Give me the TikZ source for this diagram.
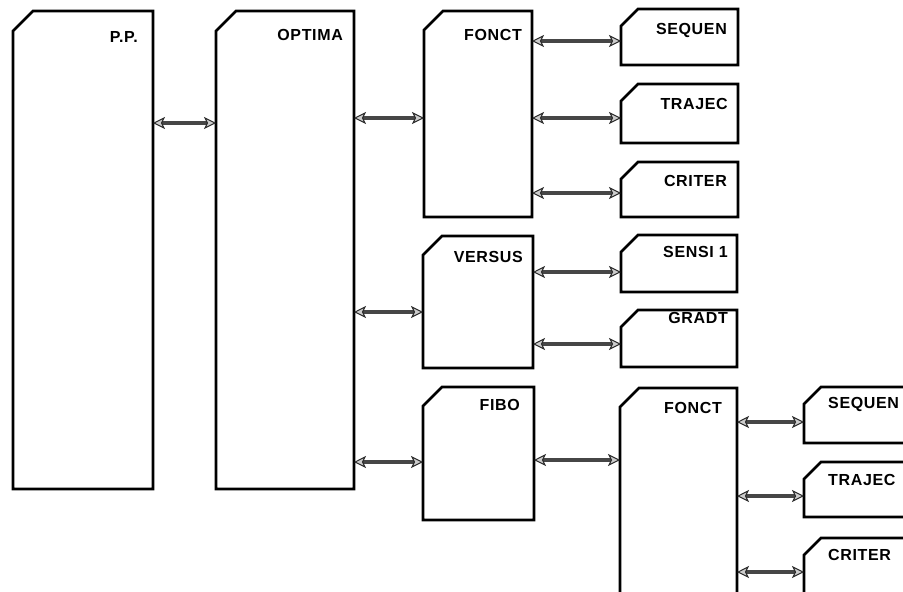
\documentclass[tikz,border=0pt]{standalone}
\usepackage{fontspec}
\setmainfont{Liberation Sans}[LetterSpace=4]
\usetikzlibrary{arrows.meta,fit}
\tikzset{
  boxarea/.style={inner sep=0pt, outer sep=0pt, draw=none},
  boxline/.style={line width=2.6pt, black, line join=miter},
  lbl/.style={font=\fontsize{16}{18}\selectfont\bfseries, inner sep=0pt, text height=11.5pt, text depth=0pt},
  hd/.tip={Stealth[length=12pt,width=12pt,inset=3pt,fill=gray!40,color=black!85,line width=1pt]},
  conn/.style={line width=3.4pt, draw=gray!55!black, hd-hd}
}
\newcommand\chbox[6]{%
  \node[boxarea, fit={(#2,#3) (#4,#5)}] (#1) {};
  \draw[boxline] ([yshift=-#6pt]#1.north west) -- ([xshift=#6pt]#1.north west) -- (#1.north east) -- (#1.south east) -- (#1.south west) -- cycle;}
\begin{document}
\begin{tikzpicture}[x=1pt,y=-1pt]
\useasboundingbox (0,0) rectangle (903,592);
\clip (0,0) rectangle (903,592);
% boxes
\chbox{pp}{13}{11}{153}{489}{20}
\chbox{opt}{216}{11}{354}{489}{20}
\chbox{fa}{424}{11}{532}{217}{19}
\chbox{seqa}{621}{9}{738}{65}{17}
\chbox{traa}{621}{84}{738}{143}{17}
\chbox{cria}{621}{162}{738}{217}{17}
\chbox{ver}{423}{236}{533}{368}{19}
\chbox{sen}{621}{235}{737}{292}{17}
\chbox{gra}{621}{310}{737}{367}{17}
\chbox{fibo}{423}{387}{534}{520}{19}
\chbox{fb}{620}{388}{737}{640}{19}
\chbox{seqb}{804}{387}{921}{443}{17}
\chbox{trab}{804}{462}{921}{517}{17}
\chbox{crib}{804}{538}{921}{600}{17}
% labels
\node[lbl, anchor=east] (ppt) at (138,37) {P.P.};
\node[lbl, anchor=east] (optt) at (343,35) {OPTIMA};
\node[lbl, anchor=east] (fat) at (522,35) {FONCT};
\node[lbl, anchor=east] (seqat) at (727,29) {SEQUEN};
\node[lbl, anchor=east] (traat) at (728,104) {TRAJEC};
\node[lbl, anchor=east] (criat) at (727,181) {CRITER};
\node[lbl, anchor=east] (vert) at (523,257) {VERSUS};
\node[lbl, anchor=east] (sent) at (728,252) {SENSI 1};
\node[lbl, anchor=east] (grat) at (728,318) {GRADT};
\node[lbl, anchor=east] (fibot) at (520,405) {FIBO};
\node[lbl, anchor=east] (fbt) at (722,408) {FONCT};
\node[lbl, anchor=west] (seqbt) at (828,403) {SEQUEN};
\node[lbl, anchor=west] (trabt) at (828,480) {TRAJEC};
\node[lbl, anchor=west] (cribt) at (828,555) {CRITER};
% connector levels
\coordinate (y1) at (0,123);
\coordinate (y2) at (0,118);
\coordinate (y3) at (0,312);
\coordinate (y4) at (0,462);
\coordinate (y5) at (0,41);
\coordinate (y6) at (0,193);
\coordinate (y7) at (0,272);
\coordinate (y8) at (0,344);
\coordinate (y9) at (0,460);
\coordinate (y10) at (0,422);
\coordinate (y11) at (0,496);
\coordinate (y12) at (0,572);
% connectors
\draw[conn] (pp.east |- y1) -- (opt.west |- y1);
\draw[conn] (opt.east |- y2) -- (fa.west |- y2);
\draw[conn] (opt.east |- y3) -- (ver.west |- y3);
\draw[conn] (opt.east |- y4) -- (fibo.west |- y4);
\draw[conn] (fa.east |- y5) -- (seqa.west |- y5);
\draw[conn] (fa.east |- y2) -- (traa.west |- y2);
\draw[conn] (fa.east |- y6) -- (cria.west |- y6);
\draw[conn] (ver.east |- y7) -- (sen.west |- y7);
\draw[conn] (ver.east |- y8) -- (gra.west |- y8);
\draw[conn] (fibo.east |- y9) -- (fb.west |- y9);
\draw[conn] (fb.east |- y10) -- (seqb.west |- y10);
\draw[conn] (fb.east |- y11) -- (trab.west |- y11);
\draw[conn] (fb.east |- y12) -- (crib.west |- y12);
\end{tikzpicture}
\end{document}
